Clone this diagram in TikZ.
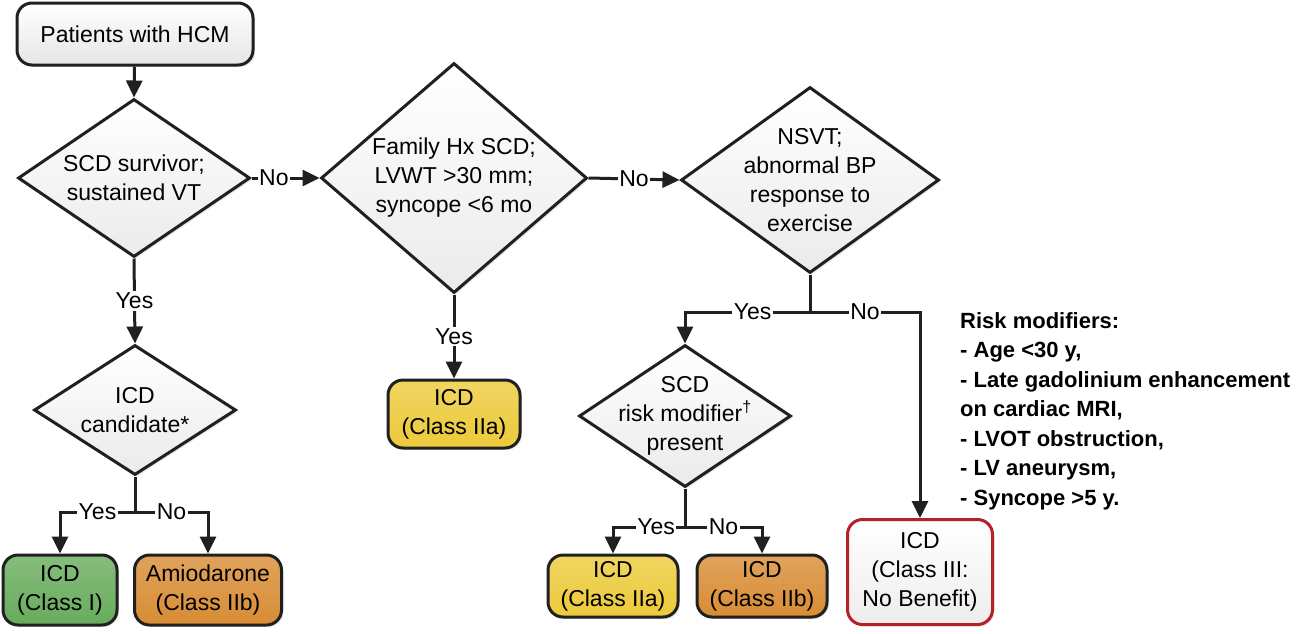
\documentclass[tikz,border=0pt]{standalone}
\usepackage{fontspec}
\setmainfont{Liberation Sans}
\usetikzlibrary{shapes.geometric,arrows.meta,shadows}
\definecolor{linegray}{RGB}{32,32,32}
\definecolor{icdgreen}{RGB}{104,172,92}
\definecolor{icdorange}{RGB}{216,140,52}
\definecolor{icdyellow}{RGB}{236,202,58}
\definecolor{nored}{RGB}{178,34,38}
\tikzset{
  every node/.style={font=\fontsize{23}{29}\selectfont},
  flowline/.style={line width=3pt, draw=linegray},
  arrow/.style={flowline, -{Triangle[length=17pt,width=16pt]}},
  softshadow/.style={drop shadow={shadow xshift=2pt, shadow yshift=-2pt, opacity=0.2}},
  startbox/.style={rectangle, rounded corners=15pt, draw=linegray, line width=3pt,
    top color=white, bottom color=gray!20, softshadow, minimum width=236pt, minimum height=62pt},
  decision/.style={diamond, draw=linegray, line width=3pt, top color=white,
    bottom color=gray!16, softshadow, inner sep=0pt},
  outcome/.style={rectangle, rounded corners=15pt, draw=linegray, line width=3pt,
    align=center, softshadow, top color=#1!80!white, bottom color=#1},
  ans/.style={fill=white, inner sep=1.5pt}
}
\begin{document}
\begin{tikzpicture}[x=1pt,y=-1pt]
\useasboundingbox (0,0) rectangle (1300,633);
% first column
\node[startbox] (hcm) at (135,34) {Patients with HCM};
\node[decision, minimum width=232pt, minimum height=158pt,
  label={[align=center]center:{SCD survivor;\\sustained VT}}] (survivor) at (134,178) {};
\node[decision, minimum width=202pt, minimum height=130pt,
  label={[align=center]center:{ICD\\candidate*}}] (candidate) at (135,410) {};
\node[outcome=icdgreen, minimum width=114pt, minimum height=70pt] (icdone) at (60,590) {ICD\\(Class I)};
\node[outcome=icdorange, minimum width=147pt, minimum height=70pt] (amio) at (208,590) {Amiodarone\\(Class IIb)};
% second column
\node[decision, minimum width=266pt, minimum height=230pt,
  label={[align=center]center:{Family Hx SCD;\\LVWT >30 mm;\\syncope <6 mo}}] (family) at (454,178) {};
\node[outcome=icdyellow, minimum width=132pt, minimum height=68pt] (icdtwoa) at (454,414) {ICD\\(Class IIa)};
% third column
\node[decision, minimum width=258pt, minimum height=186pt,
  label={[align=center]center:{NSVT;\\abnormal BP\\response to\\exercise}}] (nsvt) at (810,180) {};
\node[decision, minimum width=212pt, minimum height=142pt,
  label={[align=center]center:{SCD\\risk modifier\textsuperscript{†}\\present}}] (modifier) at (685,416) {};
\node[outcome=icdyellow, minimum width=130pt, minimum height=62pt] (modya) at (613,586) {ICD\\(Class IIa)};
\node[outcome=icdorange, minimum width=130pt, minimum height=62pt] (modyb) at (762,586) {ICD\\(Class IIb)};
\node[outcome=white, draw=nored, bottom color=gray!14, minimum width=145pt, minimum height=105pt] (nobenefit) at (920,572) {ICD\\(Class III:\\No Benefit)};
\node[anchor=north west, align=left, inner sep=0pt, font=\fontsize{22}{29.5}\selectfont\bfseries] (riskmods) at (960,312)
  {Risk modifiers:\\- Age <30 y,\\- Late gadolinium enhancement\\on cardiac MRI,\\- LVOT obstruction,\\- LV aneurysm,\\- Syncope >5 y.};
% branch points
\coordinate (candsplit) at (135,512);
\coordinate (nsvtsplit) at (810,312);
\coordinate (modsplit) at (685,527);
% connectors
\draw[arrow] (hcm) -- (survivor.north);
\draw[arrow] (survivor.east) -- node[ans, pos=0.33]{No} (family.west);
\draw[arrow] (family.east) -- node[ans]{No} (nsvt.west);
\draw[arrow] (survivor.south) -- node[ans]{Yes} (candidate.north);
\draw[arrow] (family.south) -- node[ans]{Yes} (icdtwoa.north);
\draw[flowline] (candidate.south) -- (candsplit);
\draw[arrow] (candsplit) -| node[ans, pos=0.25]{Yes} (icdone.north);
\draw[arrow] (candsplit) -| node[ans, pos=0.25]{No} (amio.north);
\draw[flowline] (nsvt.south) -- (nsvtsplit);
\draw[arrow] (nsvtsplit) -| node[ans, pos=0.23]{Yes} (modifier.north);
\draw[arrow] (nsvtsplit) -| node[ans, pos=0.25]{No} (nobenefit.north);
\draw[flowline] (modifier.south) -- (modsplit);
\draw[arrow] (modsplit) -| node[ans, pos=0.2]{Yes} (modya.north);
\draw[arrow] (modsplit) -| node[ans, pos=0.25]{No} (modyb.north);
\end{tikzpicture}
\end{document}
